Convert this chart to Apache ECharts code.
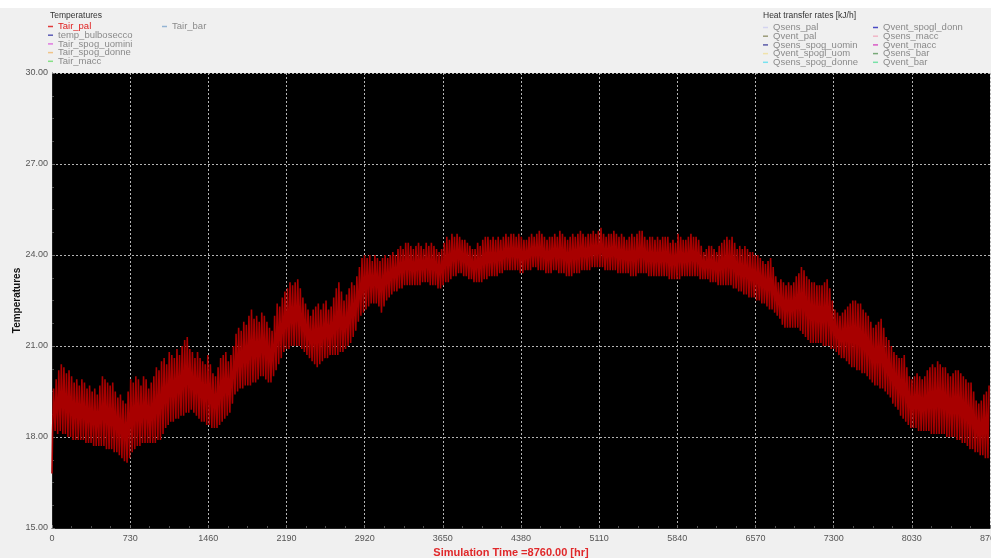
<!DOCTYPE html>
<html>
<head>
<meta charset="utf-8">
<script src="https://cdn.jsdelivr.net/npm/echarts@6/dist/echarts.min.js"></script>
<style>
  html, body { margin: 0; padding: 0; background: #f0f0f0; }
  #chart { width: 991px; height: 558px; }
</style>
</head>
<body>
<div id="chart"></div>
<script>
// Hourly air temperature of the "pal" zone over one simulated year (8760 h).
// Each day is stored as its minimum (early morning) and maximum (afternoon).
const startTemp = 16.8;

const tMax = [
  19.6, 19.9, 20.2, 20.4, 20.3, 20.1, 20.2, 20.0, 19.8, 19.9,
  19.7, 19.9, 19.8, 19.6, 19.7, 19.5, 19.6, 19.4, 19.7, 20.0,
  19.9, 19.8, 19.7, 19.8, 19.5, 19.3, 19.4, 19.2, 19.1, 19.5,
  19.9, 19.8, 20.0, 19.9, 19.7, 20.0, 19.9, 19.6, 19.8, 20.0,
  20.3, 20.2, 20.5, 20.6, 20.4, 20.8, 20.7, 20.6, 20.9, 20.7,
  21.0, 21.2, 21.3, 20.9, 20.8, 20.6, 20.8, 20.6, 20.5, 20.4,
  20.7, 20.4, 20.1, 20.0, 20.3, 20.6, 20.7, 20.8, 20.5, 20.7,
  21.0, 21.4, 21.6, 21.5, 21.8, 21.7, 22.0, 22.2, 21.9, 22.0,
  21.8, 22.1, 22.0, 21.8, 21.6, 21.5, 22.0, 22.4, 22.3, 22.6,
  22.8, 22.9, 23.1, 23.0, 23.1, 23.2, 22.9, 22.6, 22.4, 22.2,
  22.0, 22.2, 22.3, 22.4, 22.2, 22.4, 22.5, 22.2, 22.3, 22.6,
  22.9, 23.1, 22.8, 22.5, 22.7, 22.9, 23.1, 23.0, 23.3, 23.6,
  23.9, 24.0, 23.9, 24.0, 23.8, 24.0, 23.9, 23.8, 23.9, 24.0,
  23.9, 24.0, 24.1, 24.0, 24.2, 24.3, 24.2, 24.4, 24.4, 24.3,
  24.2, 24.3, 24.4, 24.3, 24.2, 24.4, 24.3, 24.4, 24.3, 24.2,
  24.1, 24.2, 24.4, 24.6, 24.5, 24.7, 24.6, 24.7, 24.6, 24.5,
  24.5, 24.4, 24.3, 24.2, 24.2, 24.4, 24.3, 24.5, 24.6, 24.6,
  24.5, 24.6, 24.5, 24.6, 24.5, 24.6, 24.7, 24.6, 24.7, 24.7,
  24.6, 24.7, 24.6, 24.5, 24.5, 24.6, 24.7, 24.6, 24.7, 24.8,
  24.7, 24.6, 24.5, 24.6, 24.6, 24.7, 24.6, 24.8, 24.7, 24.6,
  24.5, 24.6, 24.7, 24.6, 24.7, 24.8, 24.7, 24.6, 24.7, 24.7,
  24.8, 24.7, 24.8, 24.9, 24.7, 24.6, 24.7, 24.7, 24.8, 24.7,
  24.6, 24.7, 24.6, 24.5, 24.6, 24.7, 24.6, 24.7, 24.8, 24.8,
  24.6, 24.5, 24.6, 24.6, 24.5, 24.6, 24.5, 24.6, 24.6, 24.6,
  24.4, 24.5, 24.4, 24.7, 24.6, 24.5, 24.5, 24.6, 24.7, 24.6,
  24.6, 24.5, 24.3, 24.1, 24.2, 24.3, 24.3, 24.2, 24.1, 24.3,
  24.4, 24.5, 24.6, 24.5, 24.6, 24.4, 24.2, 24.3, 24.2, 24.3,
  24.2, 24.1, 24.1, 24.0, 24.0, 23.9, 23.8, 23.7, 23.8, 23.9,
  23.6, 23.3, 23.1, 23.2, 23.1, 23.0, 23.1, 23.0, 23.1, 23.3,
  23.4, 23.6, 23.5, 23.3, 23.2, 23.1, 23.1, 23.0, 23.0, 23.0,
  23.1, 23.2, 22.9, 22.5, 22.2, 22.1, 22.0, 22.1, 22.2, 22.3,
  22.4, 22.5, 22.5, 22.4, 22.4, 22.2, 22.1, 22.0, 21.8, 21.6,
  21.7, 21.8, 21.9, 21.6, 21.3, 21.2, 21.0, 20.8, 20.7, 20.6,
  20.6, 20.7, 20.3, 20.0, 19.9, 20.0, 20.1, 20.0, 19.9, 20.0,
  20.2, 20.3, 20.4, 20.3, 20.5, 20.4, 20.3, 20.3, 20.1, 20.0,
  20.1, 20.2, 20.2, 20.1, 20.0, 19.9, 19.8, 19.8, 19.5, 19.2,
  19.1, 19.2, 19.4, 19.5, 19.7
];

const tMin = [
  18.1, 18.2, 18.1, 18.2, 18.1, 18.1, 18.0, 18.0, 17.9, 17.9,
  17.9, 17.9, 17.9, 17.8, 17.8, 17.8, 17.7, 17.7, 17.7, 17.7,
  17.7, 17.6, 17.6, 17.6, 17.5, 17.5, 17.4, 17.3, 17.2, 17.15,
  17.3, 17.5, 17.6, 17.7, 17.7, 17.8, 17.8, 17.8, 17.8, 17.8,
  17.8, 17.9, 17.9, 18.1, 18.3, 18.4, 18.5, 18.5, 18.6, 18.6,
  18.7, 18.7, 18.8, 18.8, 18.9, 18.8, 18.7, 18.6, 18.5, 18.5,
  18.4, 18.4, 18.3, 18.3, 18.3, 18.4, 18.5, 18.6, 18.7, 18.8,
  19.1, 19.4, 19.5, 19.6, 19.6, 19.7, 19.7, 19.7, 19.8, 19.8,
  19.9, 20.0, 20.0, 19.9, 19.8, 19.8, 20.0, 20.2, 20.4, 20.6,
  20.8, 20.9, 20.9, 21.0, 21.0, 21.0, 21.0, 20.9, 20.8, 20.7,
  20.6, 20.5, 20.4, 20.3, 20.4, 20.5, 20.6, 20.6, 20.7, 20.7,
  20.7, 20.7, 20.8, 20.8, 20.9, 21.0, 21.1, 21.3, 21.5, 21.8,
  22.0, 22.1, 22.2, 22.3, 22.4, 22.4, 22.4, 22.3, 22.1, 22.3,
  22.5, 22.6, 22.7, 22.8, 22.8, 22.9, 22.9, 23.0, 23.0, 23.0,
  23.0, 23.0, 23.0, 23.0, 23.1, 23.1, 23.1, 23.0, 23.0, 23.0,
  22.9, 22.9, 23.0, 23.1, 23.1, 23.2, 23.3, 23.3, 23.4, 23.4,
  23.3, 23.3, 23.2, 23.2, 23.1, 23.1, 23.1, 23.1, 23.2, 23.2,
  23.3, 23.3, 23.3, 23.3, 23.4, 23.4, 23.5, 23.5, 23.5, 23.5,
  23.5, 23.5, 23.4, 23.4, 23.5, 23.5, 23.5, 23.6, 23.6, 23.5,
  23.5, 23.5, 23.4, 23.4, 23.4, 23.5, 23.5, 23.4, 23.4, 23.4,
  23.3, 23.3, 23.3, 23.4, 23.4, 23.4, 23.5, 23.5, 23.5, 23.5,
  23.6, 23.6, 23.6, 23.6, 23.6, 23.5, 23.5, 23.5, 23.5, 23.5,
  23.4, 23.4, 23.4, 23.4, 23.4, 23.3, 23.3, 23.3, 23.4, 23.4,
  23.4, 23.4, 23.3, 23.3, 23.3, 23.3, 23.3, 23.3, 23.3, 23.3,
  23.2, 23.2, 23.2, 23.2, 23.2, 23.3, 23.3, 23.3, 23.3, 23.3,
  23.3, 23.3, 23.2, 23.2, 23.2, 23.2, 23.1, 23.1, 23.1, 23.0,
  23.0, 23.0, 23.0, 23.0, 23.0, 22.9, 22.9, 22.8, 22.8, 22.7,
  22.7, 22.6, 22.6, 22.6, 22.5, 22.5, 22.4, 22.4, 22.3, 22.2,
  22.2, 22.1, 22.0, 21.9, 21.7, 21.6, 21.6, 21.6, 21.6, 21.6,
  21.6, 21.5, 21.4, 21.3, 21.2, 21.1, 21.1, 21.1, 21.1, 21.1,
  21.0, 21.0, 21.0, 20.9, 20.9, 20.8, 20.7, 20.6, 20.6, 20.5,
  20.4, 20.3, 20.3, 20.2, 20.2, 20.1, 20.1, 20.0, 19.9, 19.8,
  19.7, 19.7, 19.6, 19.6, 19.5, 19.4, 19.3, 19.1, 19.0, 18.9,
  18.7, 18.6, 18.5, 18.4, 18.3, 18.3, 18.3, 18.2, 18.2, 18.2,
  18.2, 18.2, 18.1, 18.1, 18.1, 18.1, 18.1, 18.1, 18.0, 18.0,
  18.0, 18.0, 17.9, 17.9, 17.8, 17.8, 17.7, 17.6, 17.6, 17.5,
  17.5, 17.4, 17.4, 17.3, 17.3
];

// Hour of the day at which the daily minimum / maximum occur
const minHour = 5;
const maxHour = 15;

const xTicks = [0, 730, 1460, 2190, 2920, 3650, 4380, 5110, 5840, 6570, 7300, 8030, 8760];
const yTicks = [15, 18, 21, 24, 27, 30];

const tempNames = ['Tair_pal', 'temp_bulbosecco', 'Tair_spog_uomini', 'Tair_spog_donne', 'Tair_macc', 'Tair_bar'];
const tempColors = ['#e03a3a', '#5a5ab4', '#e07ae0', '#f0c488', '#86e086', '#94b4d4'];
const heatNames = ['Qsens_pal', 'Qvent_pal', 'Qsens_spog_uomin', 'Qvent_spogl_uom', 'Qsens_spog_donne',
                   'Qvent_spogl_donn', 'Qsens_macc', 'Qvent_macc', 'Qsens_bar', 'Qvent_bar'];
const heatColors = ['#d4d4f0', '#9a9a78', '#5a5aa8', '#f0e2aa', '#78e2f0',
                    '#4a4ac4', '#f0b6c6', '#d85ac6', '#78a878', '#78e2a8'];

const tairPal = [[0, startTemp]];
for (let d = 0; d < tMax.length; d++) {
  tairPal.push([d * 24 + minHour, tMin[d]]);
  tairPal.push([d * 24 + maxHour, tMax[d]]);
}

const chart = echarts.init(document.getElementById('chart'), null, { renderer: 'canvas' });

const font = 'Liberation Sans, Arial, sans-serif';
const legendText = { fontFamily: font, fontSize: 9.5, color: '#8a8a8a' };

function legendBlock(names, colors, left, top, highlightFirst) {
  return {
    orient: 'vertical',
    left: left,
    top: top,
    padding: 0,
    itemGap: -1.3,
    itemWidth: 5,
    itemHeight: 1.5,
    icon: 'rect',
    selectedMode: false,
    textStyle: legendText,
    data: names.map((n, i) => ({
      name: n,
      itemStyle: { color: colors[i] },
      textStyle: (highlightFirst && i === 0) ? { color: '#e02020' } : undefined
    }))
  };
}

const emptySeries = [];
tempNames.slice(1).forEach((n, i) => emptySeries.push({
  name: n, type: 'line', data: [], color: tempColors[i + 1], showSymbol: false
}));
heatNames.forEach((n, i) => emptySeries.push({
  name: n, type: 'line', data: [], color: heatColors[i], showSymbol: false
}));

chart.setOption({
  animation: false,
  backgroundColor: '#f0f0f0',
  graphic: [{
    type: 'rect', left: 0, top: 0, z: -1,
    shape: { width: 991, height: 8 },
    style: { fill: '#ffffff' }
  }],
  title: [
    { text: 'Temperatures', left: 50, top: 11, padding: 0,
      textStyle: { fontFamily: font, fontSize: 8.5, fontWeight: 'normal', color: '#333' } },
    { text: 'Heat transfer rates [kJ/h]', left: 763, top: 11, padding: 0,
      textStyle: { fontFamily: font, fontSize: 8.5, fontWeight: 'normal', color: '#333' } }
  ],
  legend: [
    legendBlock(tempNames.slice(0, 5), tempColors.slice(0, 5), 48, 21.5, true),
    legendBlock(tempNames.slice(5), tempColors.slice(5), 162, 21.5, false),
    legendBlock(heatNames.slice(0, 5), heatColors.slice(0, 5), 763, 22.5, false),
    legendBlock(heatNames.slice(5), heatColors.slice(5), 873, 22.5, false)
  ],
  grid: {
    left: 52, right: 1, top: 73, bottom: 30,
    outerBoundsMode: 'none', containLabel: false,
    show: true, backgroundColor: '#000000', borderWidth: 0
  },
  xAxis: {
    type: 'value',
    min: xTicks[0],
    max: xTicks[xTicks.length - 1],
    interval: 730,
    name: 'Simulation Time =8760.00 [hr]',
    nameLocation: 'middle',
    nameGap: 16,
    nameTextStyle: { fontFamily: font, fontSize: 11, fontWeight: 'bold', color: '#e0282a', padding: [0, 20, 0, 0] },
    axisLine: { show: true, lineStyle: { color: '#202020' } },
    axisTick: { show: true, inside: true, length: 3, lineStyle: { color: '#707070' } },
    minorTick: { show: true, splitNumber: 4, length: 2, lineStyle: { color: '#505050' } },
    axisLabel: { fontFamily: font, fontSize: 9, color: '#555', margin: 6, hideOverlap: false, formatter: v => String(v) },
    splitLine: { show: true, lineStyle: { color: '#b4b4b4', type: [2, 2], width: 1 } }
  },
  yAxis: {
    type: 'value',
    min: yTicks[0],
    max: yTicks[yTicks.length - 1],
    interval: 3,
    name: 'Temperatures',
    nameLocation: 'middle',
    nameGap: 30,
    nameMoveOverlap: false,
    nameTextStyle: { fontFamily: font, fontSize: 10, fontWeight: 'bold', color: '#111' },
    axisLine: { show: true, lineStyle: { color: '#202020' } },
    axisTick: { show: true, inside: true, length: 3, lineStyle: { color: '#707070' } },
    minorTick: { show: true, splitNumber: 4, length: 2, lineStyle: { color: '#505050' } },
    axisLabel: { fontFamily: font, fontSize: 9, color: '#555', margin: 4, formatter: v => v.toFixed(2) },
    splitLine: { show: true, lineStyle: { color: '#b4b4b4', type: [2, 2], width: 1 } }
  },
  series: [{
    name: 'Tair_pal',
    type: 'line',
    data: tairPal,
    color: '#a80000',
    showSymbol: false,
    sampling: null,
    lineStyle: { width: 1.6, color: '#a80000' },
    z: 3
  }].concat(emptySeries)
});
</script>
</body>
</html>
